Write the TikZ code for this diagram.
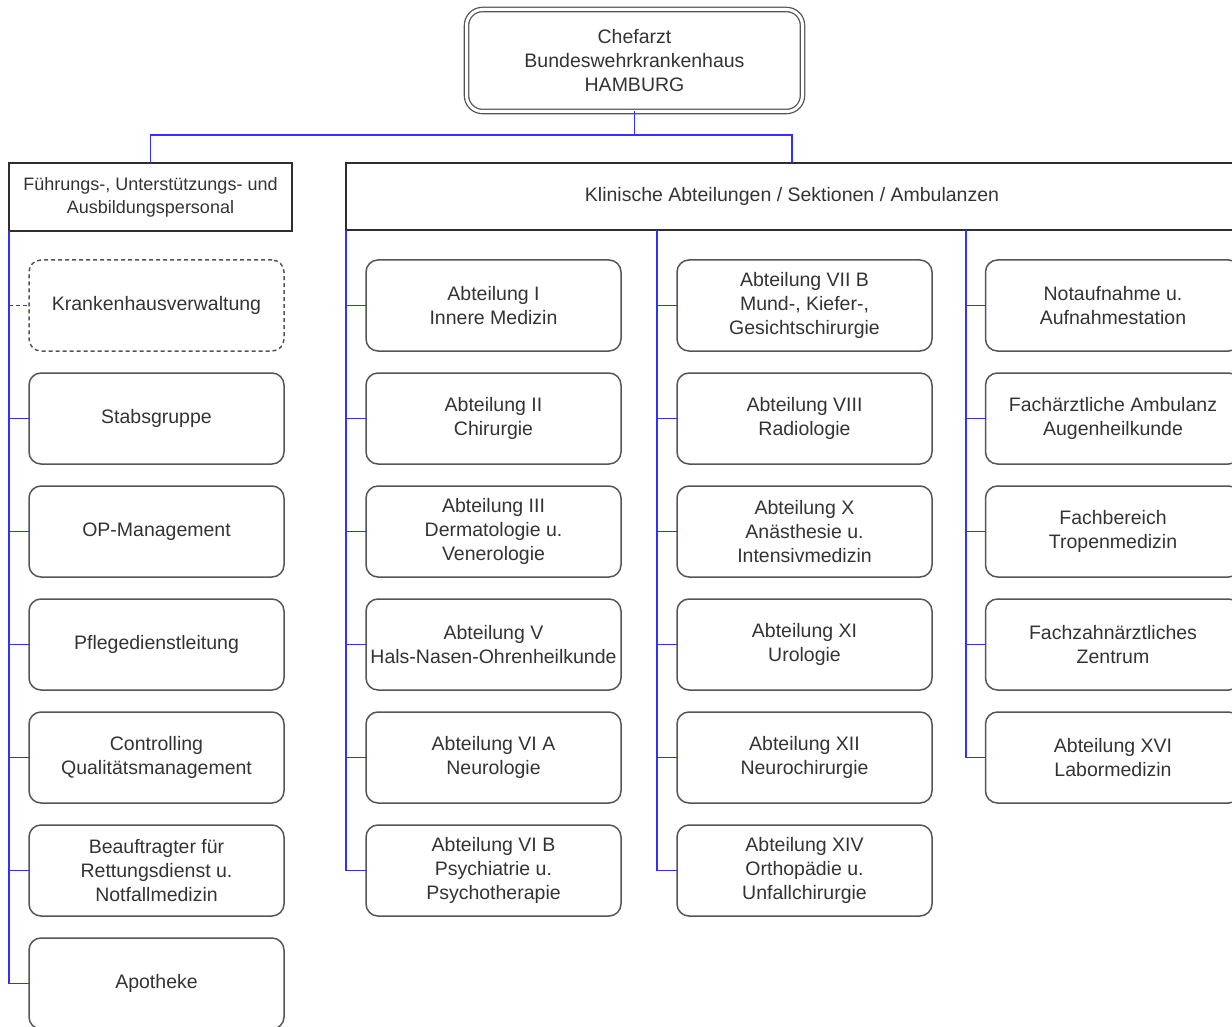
\documentclass[tikz,border=0pt]{standalone}
\usepackage{fontspec}
\setmainfont{Liberation Sans}
\definecolor{txt}{HTML}{333333}
\definecolor{bd}{HTML}{555555}
\definecolor{hbd}{HTML}{2E2E2E}
\definecolor{conncol}{HTML}{3030FF}
\begin{document}
\begin{tikzpicture}[x=1pt,y=-1pt,
  box/.style={draw=bd, line width=1.5pt, rounded corners=12pt, minimum width=255pt, minimum height=91pt,
    align=center, text=txt, font=\fontsize{19.5}{24}\selectfont, inner sep=0pt, outer sep=0pt},
  dbox/.style={box, dash pattern=on 4pt off 3pt},
  hdr/.style={draw=hbd, line width=2.5pt, align=center, text=txt, inner sep=0pt, outer sep=0pt},
  topbox/.style={draw=bd, line width=1.3pt, double=white, double distance=3pt, rounded corners=16pt,
    minimum width=336pt, minimum height=102pt, align=center, text=txt,
    font=\fontsize{19.5}{24}\selectfont, inner sep=0pt, outer sep=0pt},
  conn/.style={draw=conncol, line width=1.8pt},
  dconn/.style={conn, dash pattern=on 4pt off 3pt}]
\useasboundingbox (0,0) rectangle (1232,1027);

% top
\node[topbox] (chef) at (634.5,60.5) {Chefarzt\\Bundeswehrkrankenhaus\\HAMBURG};

% headers
\node[hdr, minimum width=283pt, minimum height=68pt, font=\fontsize{18}{23}\selectfont] (lh) at (150.5,197)
  {Führungs-, Unterstützungs- und\\Ausbildungspersonal};
\node[hdr, minimum width=892pt, minimum height=67pt, font=\fontsize{19.5}{24}\selectfont] (rh) at (792,196.5)
  {Klinische Abteilungen / Sektionen / Ambulanzen};

% left column
\node[dbox] (kv)   at (156.5,305.5) {Krankenhausverwaltung};
\node[box]  (stab) at (156.5,418.5) {Stabsgruppe};
\node[box]  (op)   at (156.5,531.5) {OP-Management};
\node[box]  (pfl)  at (156.5,644.5) {Pflegedienstleitung};
\node[box]  (ctrl) at (156.5,757.5) {Controlling\\Qualitätsmanagement};
\node[box]  (beau) at (156.5,870.5) {Beauftragter für\\Rettungsdienst u.\\Notfallmedizin};
\node[box]  (apo)  at (156.5,983.5) {Apotheke};

% clinical column 1
\node[box] (a1) at (493.5,305.5) {Abteilung I\\Innere Medizin};
\node[box] (a2) at (493.5,418.5) {Abteilung II\\Chirurgie};
\node[box] (a3) at (493.5,531.5) {Abteilung III\\Dermatologie u.\\Venerologie};
\node[box] (a5) at (493.5,644.5) {Abteilung V\\Hals-Nasen-Ohrenheilkunde};
\node[box] (a6a) at (493.5,757.5) {Abteilung VI A\\Neurologie};
\node[box] (a6b) at (493.5,870.5) {Abteilung VI B\\Psychiatrie u.\\Psychotherapie};

% clinical column 2
\node[box] (a7b) at (804.5,305.5) {Abteilung VII B\\Mund-, Kiefer-,\\Gesichtschirurgie};
\node[box] (a8)  at (804.5,418.5) {Abteilung VIII\\Radiologie};
\node[box] (a10) at (804.5,531.5) {Abteilung X\\Anästhesie u.\\Intensivmedizin};
\node[box] (a11) at (804.5,644.5) {Abteilung XI\\Urologie};
\node[box] (a12) at (804.5,757.5) {Abteilung XII\\Neurochirurgie};
\node[box] (a14) at (804.5,870.5) {Abteilung XIV\\Orthopädie u.\\Unfallchirurgie};

% clinical column 3
\node[box] (na)  at (1113,305.5) {Notaufnahme u.\\Aufnahmestation};
\node[box] (fa)  at (1113,418.5) {Fachärztliche Ambulanz\\Augenheilkunde};
\node[box] (fb)  at (1113,531.5) {Fachbereich\\Tropenmedizin};
\node[box] (fz)  at (1113,644.5) {Fachzahnärztliches\\Zentrum};
\node[box] (a16) at (1113,757.5) {Abteilung XVI\\Labormedizin};

% connectors top
\coordinate (bus) at (0,135);
\coordinate (t2) at (657,0);
\coordinate (t3) at (966,0);
\draw[conn] (chef.south) -- (bus -| chef.south);
\draw[conn] (lh.north) |- (bus -| chef.south) -| (rh.north);

% left trunk
\draw[conn] (lh.south west) |- (apo.west);
\draw[dconn] (lh.south west |- kv.west) -- (kv.west);
\foreach \n in {stab,op,pfl,ctrl,beau}
  \draw[conn] (lh.south west |- \n.west) -- (\n.west);

% clinical trunk 1
\draw[conn] (rh.south west) |- (a6b.west);
\foreach \n in {a1,a2,a3,a5,a6a}
  \draw[conn] (rh.south west |- \n.west) -- (\n.west);

% clinical trunk 2
\draw[conn] (rh.south -| t2) |- (a14.west);
\foreach \n in {a7b,a8,a10,a11,a12}
  \draw[conn] (t2 |- \n.west) -- (\n.west);

% clinical trunk 3
\draw[conn] (rh.south -| t3) |- (a16.west);
\foreach \n in {na,fa,fb,fz}
  \draw[conn] (t3 |- \n.west) -- (\n.west);
\end{tikzpicture}
\end{document}
